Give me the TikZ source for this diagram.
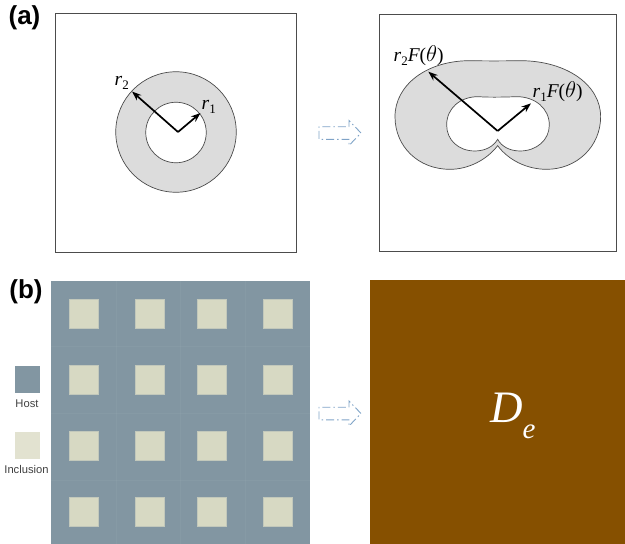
\documentclass[tikz,border=0pt]{standalone}
\usepackage{fontspec}
\setmainfont{Liberation Serif}
\setsansfont{Liberation Sans}
\usetikzlibrary{arrows.meta}
\definecolor{hostc}{HTML}{8296A2}
\definecolor{incl}{HTML}{D7D9C3}
\definecolor{inclb}{HTML}{E2E2D0}
\definecolor{ringc}{HTML}{DCDCDC}
\definecolor{brownc}{HTML}{865000}
\definecolor{arrc}{HTML}{7FA3C7}
\tikzset{
 framebox/.style={draw=black!70!white,line width=1pt,fill=white},
 ring/.style={draw=black!70,line width=0.7pt,fill=ringc},
 hole/.style={draw=black!70,line width=0.7pt,fill=white},
 radius arrow/.style={-{Stealth[length=9.5pt,width=7pt]},line width=1.7pt,black},
 math label/.style={inner sep=0pt,anchor=base west,font=\fontsize{19.5}{20}\selectfont\itshape},
 panel/.style={inner sep=0pt,font=\sffamily\bfseries\fontsize{26}{26}\selectfont},
 legend/.style={inner sep=0pt,font=\sffamily\fontsize{11.2}{12}\selectfont,text=black!75},
 flow/.style={draw=arrc,line width=0.9pt,dash pattern=on 8pt off 3pt on 1.5pt off 3pt},
 cell/.style={fill=incl,draw=incl!75!hostc,line width=0.5pt},
}
\newcommand{\lowsub}[1]{\raisebox{-4.5pt}{\fontsize{13}{13}\selectfont\upshape #1}}
\newcommand{\flowarrow}[2]{%
 \begin{scope}[shift={(#1,#2)}]
 \draw[flow] (349,-6.3) -- (349,-12.5) -- (361,0) -- (349,12.5) -- (349,6.3) -- (319,6.3) -- (319,-6.3) -- cycle;
 \end{scope}}
\begin{document}
\begin{tikzpicture}[x=1pt,y=-1pt]
\useasboundingbox (0,0) rectangle (625,544);
% (a)
\node[panel] (la) at (24.5,18) {(a)};
\node[framebox,minimum width=241pt,minimum height=239pt,inner sep=0pt] (boxl) at (175.5,132.5) {};
\node[framebox,minimum width=237.5pt,minimum height=237pt,inner sep=0pt] (boxr) at (498,132.5) {};
\node[circle,ring,minimum size=120.5pt,inner sep=0pt] (outer) at (176,132) {};
\node[circle,hole,minimum size=60.5pt,inner sep=0pt] (inner) at (176,132.5) {};
\coordinate (o) at (178,132);
\coordinate (r2end) at (132,91.5);
\coordinate (r1end) at (200.5,113);
\draw[radius arrow] (o) -- (r2end);
\draw[radius arrow] (o) -- (r1end);
\node[math label] (r2) at (114.5,85) {r\lowsub{2}};
\node[math label] (r1) at (201.5,109) {r\lowsub{1}};
% peanut
\begin{scope}[shift={(370,0)},x=0.3333pt,y=-0.3333pt]
 \draw[ring] (383,437)
   .. controls (415,480) and (470,508) .. (530,508)
   .. controls (620,508) and (692,440) .. (692,350)
   .. controls (692,255) and (590,182) .. (450,182)
   .. controls (390,183) and (350,183) .. (300,182)
   .. controls (170,182) and (75,255) .. (75,350)
   .. controls (75,440) and (145,508) .. (240,508)
   .. controls (295,508) and (350,480) .. (383,437) -- cycle;
 \draw[hole] (383,418)
   .. controls (395,440) and (420,453) .. (450,453)
   .. controls (500,453) and (538,420) .. (538,375)
   .. controls (538,325) and (495,290) .. (440,290)
   .. controls (390,292) and (350,292) .. (325,290)
   .. controls (270,290) and (230,325) .. (230,375)
   .. controls (230,420) and (265,453) .. (315,453)
   .. controls (345,453) and (370,440) .. (383,418) -- cycle;
 \coordinate (op) at (383,393);
 \coordinate (r2p) at (175,215);
 \coordinate (r1p) at (483,310);
 \draw[radius arrow] (op) -- (r2p);
 \draw[radius arrow] (op) -- (r1p);
\end{scope}
\node[math label] (r2F) at (393.5,61) {r\lowsub{2}F\upshape(\itshape\scalebox{1.1}{$\theta$}\upshape)};
\node[math label] (r1F) at (532.5,97) {r\lowsub{1}F\upshape(\itshape\scalebox{1.1}{$\theta$}\upshape)};
\flowarrow{0}{133}
% (b)
\node[panel] (lb) at (26,292) {(b)};
\fill[hostc] (51,281) rectangle (310,544);
\foreach \x in {115.75,180.5,245.25} \draw[white,opacity=.04] (\x,281) -- (\x,544);
\foreach \y in {346,413,480} \draw[white,opacity=.04] (51,\y) -- (310,\y);
\foreach \x in {69.5,135.5,197.5,263.5}
 \foreach \y in {299.5,365.5,431.5,497.5}
  \filldraw[cell] (\x,\y) rectangle +(28.5,28.5);
\node[fill=hostc,minimum width=25pt,minimum height=27pt,inner sep=0pt] (host) at (27,379) {};
\node[legend] (hostl) at (27,404) {Host};
\node[fill=inclb,minimum width=25pt,minimum height=27pt,inner sep=0pt] (inc) at (27,445.5) {};
\node[legend] (incl) at (26.5,469) {Inclusion};
\flowarrow{0}{413.5}
\fill[brownc] (370,280) rectangle (625,544);
\node[inner sep=0pt,anchor=base west,text=white,font=\fontsize{45}{45}\selectfont\itshape] (De) at (490,422) {D\raisebox{-16pt}{\fontsize{29}{29}\selectfont e}};
\end{tikzpicture}
\end{document}
